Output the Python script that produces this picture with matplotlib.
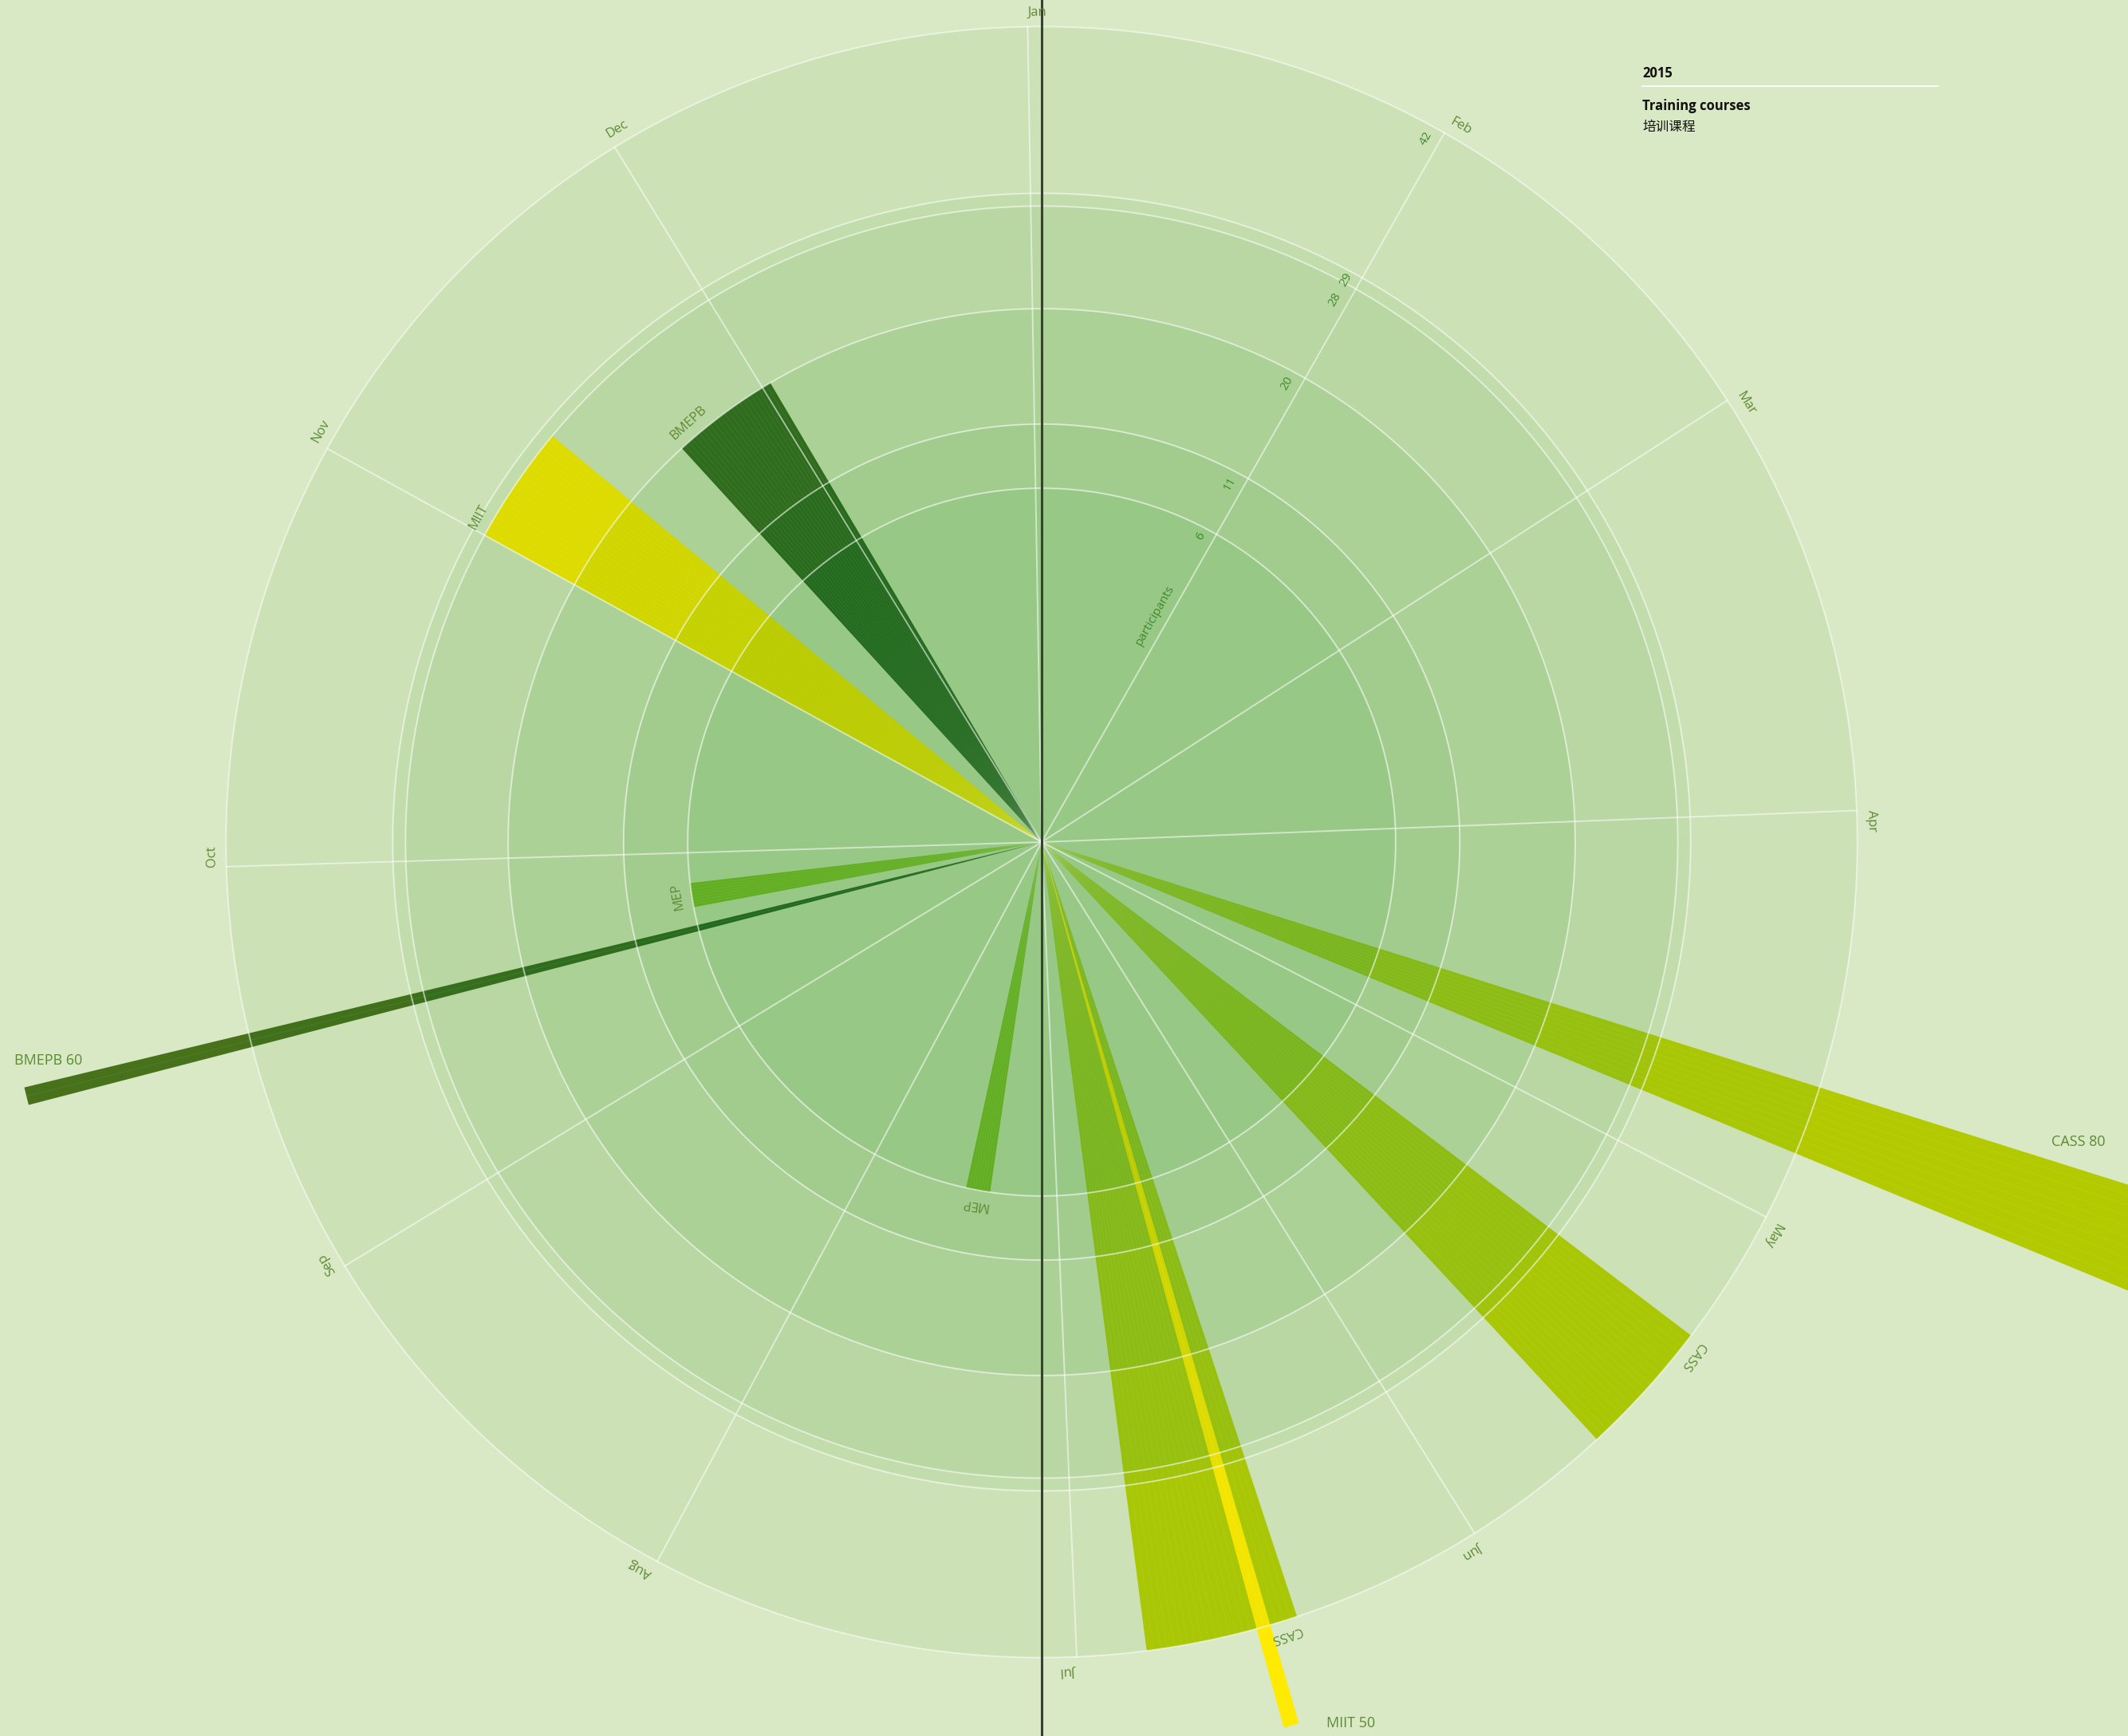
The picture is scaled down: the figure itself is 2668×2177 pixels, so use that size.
import numpy as np
import matplotlib.pyplot as plt
from matplotlib.lines import Line2D
from matplotlib.colors import to_rgb

plt.rcParams['font.family'] = ['Open Sans', 'Noto Sans CJK SC', 'DejaVu Sans']

# ===== DATA ===== #
months = ['Jan', 'Feb', 'Mar', 'Apr', 'May', 'Jun', 'Jul', 'Aug', 'Sep', 'Oct', 'Nov', 'Dec']
month_start_day = [0, 31, 59, 90, 120, 151, 181, 212, 243, 273, 304, 334]
ring_values = [6, 11, 20, 28, 29, 42]

course_names = ['CASS', 'CASS', 'CASS', 'MIIT', 'MEP', 'BMEPB', 'MEP', 'MIIT', 'BMEPB']
course_start_day = [110, 130, 165, 167, 192, 260, 264, 304, 323]
course_days = [5, 10, 11, 1, 4, 1, 4, 11, 12]
course_participants = [80, 42, 42, 50, 6, 60, 6, 28, 20]

# ===== STYLE ===== #
W, H = 2668, 2177
CX, CY = 1306, 1056          # dial centre (pixels from top-left)
PX_PER_UNIT = 16.08
RMIN, RMAX = -21.6, 85
DAYS = 365

bg = '#d9e8c5'
band_colors = ['#98c886', '#a2cc8e', '#acd197', '#b8d7a2', '#c2dcac', '#cce2b6']
family_colors = {
    'CASS': ('#7ab51e', '#b4ca00'),
    'MIIT': ('#bacc00', '#ffea00'),
    'BMEPB': ('#236a1e', '#47711a'),
    'MEP': ('#62ae22', '#7ab51e'),
}
label_green = '#5e8a33'
tick_green = '#3f8a2c'

# offsets (pixels) for the long bars' horizontal labels, and radius cap for the anchor
ext_label = {0: (61, 18, 73), 3: (50, 44, -2), 5: (60, -15, 40)}


def day_to_theta(d):
    return (np.asarray(d, dtype=float) - 1) * 2 * np.pi / DAYS


def mix(c1, c2, t):
    a, b = np.array(to_rgb(c1)), np.array(to_rgb(c2))
    return tuple(a + (b - a) * t)


fig = plt.figure(figsize=(W / 100, H / 100), dpi=100, facecolor=bg)
R = (RMAX - RMIN) * PX_PER_UNIT
ax = fig.add_axes([(CX - R) / W, (H - CY - R) / H, 2 * R / W, 2 * R / H], projection='polar')
ax.set_theta_zero_location('N')
ax.set_theta_direction(-1)
ax.set_ylim(RMIN, RMAX)
ax.axis('off')

# background rings
edges = [RMIN] + ring_values
for i, c in enumerate(band_colors):
    ax.bar(0, edges[i + 1] - edges[i], width=2 * np.pi, bottom=edges[i],
           color=c, linewidth=0, align='edge', zorder=1)

# course wedges, stepped colour per ring band
for name, d0, nd, val in zip(course_names, course_start_day, course_days, course_participants):
    inner, outer = family_colors[name]
    stops = [RMIN] + [r for r in ring_values if r < val] + [val]
    th0 = day_to_theta(d0)
    wd = nd * 2 * np.pi / DAYS
    for k in range(len(stops) - 1):
        ax.bar(th0, stops[k + 1] - stops[k], width=wd, bottom=stops[k],
               color=mix(inner, outer, k / 6), linewidth=0, align='edge', zorder=3)
    # faint daily divisions
    for j in np.arange(0.5, nd, 0.5):
        th = th0 + j * 2 * np.pi / DAYS
        ax.plot([th, th], [RMIN, val], color='white', alpha=0.08, lw=0.6, zorder=4)

# ring lines and month spokes
tt = np.linspace(0, 2 * np.pi, 1440)
for r in ring_values:
    ax.plot(tt, np.full_like(tt, r), color='white', alpha=0.55, lw=1.4, zorder=5)
for d in month_start_day:
    th = day_to_theta(d)
    ax.plot([th, th], [RMIN, ring_values[-1]], color='white', alpha=0.55, lw=1.4, zorder=5)

# vertical marker through the centre
ax.plot([0, 0, np.pi, np.pi], [RMAX, RMIN, RMIN, RMAX], color='#3a3f38', lw=2.2,
        zorder=6, clip_on=False)

# month labels
for m, d in zip(months, month_start_day):
    th = float(day_to_theta(d))
    ax.text(th, ring_values[-1] + 0.6, m, rotation=-np.degrees(th), rotation_mode='anchor',
            ha='left', va='bottom', fontsize=12, color=label_green, zorder=7)

# ring value labels along the Feb spoke (close rings are spread apart)
th_feb = float(day_to_theta(month_start_day[1]))
for i, v in enumerate(ring_values):
    shift = 0.0
    if i + 1 < len(ring_values) and ring_values[i + 1] - v < 2:
        shift = -0.45
    elif i > 0 and v - ring_values[i - 1] < 2:
        shift = 0.3
    rpx = (v - RMIN) * PX_PER_UNIT
    ax.text(th_feb - 9 / rpx, v - 0.5 + shift, str(v), rotation=90 - np.degrees(th_feb),
            rotation_mode='anchor', ha='right', va='bottom', fontsize=11, color=tick_green, zorder=7)
rpx0 = (0 - RMIN) * PX_PER_UNIT
ax.text(th_feb - 9 / rpx0, 0.8, 'participants', rotation=90 - np.degrees(th_feb),
        rotation_mode='anchor', ha='right', va='bottom', fontsize=11, color=tick_green, zorder=7)

# course labels
for i, (name, d0, nd, val) in enumerate(zip(course_names, course_start_day, course_days,
                                            course_participants)):
    th0 = float(day_to_theta(d0))
    if i in ext_label:
        rcap, dx, dy = ext_label[i]
        thm = float(day_to_theta(d0 + nd / 2))
        ax.annotate('{} {}'.format(name, val), xy=(thm, min(val, rcap)), xytext=(dx, dy),
                    textcoords='offset pixels', ha='left', va='baseline', fontsize=13,
                    color=label_green, zorder=7, annotation_clip=False)
    else:
        ax.text(th0, val + 0.6, name, rotation=-np.degrees(th0), rotation_mode='anchor',
                ha='left', va='bottom', fontsize=12, color=label_green, zorder=7)

# title block
x0 = 2059 / W
fig.text(x0, 1 - 97 / H, '2015', fontsize=12, fontweight='bold', color='#111111', va='baseline')
fig.add_artist(Line2D([x0, 2430 / W], [1 - 108 / H] * 2, color='white', lw=1.3))
fig.text(x0, 1 - 138 / H, 'Training courses', fontsize=12, fontweight='bold', color='#111111',
         va='baseline')
fig.text(x0, 1 - 164 / H, '培训课程', fontsize=12, color='#111111', va='baseline',
         family=['Noto Sans CJK SC', 'DejaVu Sans'])

fig.savefig('out.png', dpi=100, facecolor=bg)
